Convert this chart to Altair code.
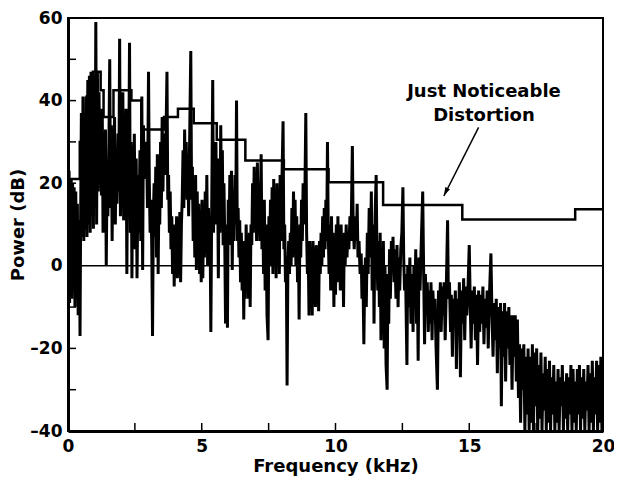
import altair as alt
import pandas as pd

# ---- spectrum (frequency kHz, power dB), left to right ----
seg_0_1 = [(0.00, 24), (0.02, -6), (0.04, 23), (0.06, -9), (0.08, 21), (0.10, -5), (0.12, 21), (0.14, -8),
           (0.17, 20), (0.20, -3), (0.23, 19), (0.26, -10), (0.29, 18), (0.32, -4), (0.35, 15), (0.38, -12),
           (0.40, 11), (0.43, 2), (0.45, -17),
           (0.47, 9), (0.50, 37), (0.53, 7), (0.56, 41), (0.59, 6), (0.62, 30), (0.65, 9), (0.68, 41), (0.71, 7),
           (0.74, 45), (0.77, 10), (0.80, 46), (0.83, 8), (0.86, 47), (0.89, 12), (0.92, 44), (0.95, 9),
           (0.98, 46), (1.01, 14), (1.04, 59), (1.07, 10), (1.10, 47)]
seg_1_2 = [(1.13, 18), (1.16, 42), (1.19, 20), (1.22, 35), (1.25, 17), (1.28, 38), (1.31, 8), (1.34, 26),
           (1.37, 16), (1.40, 33), (1.43, 0), (1.46, 22), (1.49, 12), (1.53, 30), (1.56, 50), (1.59, 14),
           (1.62, 34), (1.65, 6), (1.68, 25), (1.71, 20), (1.74, 36), (1.77, 10), (1.80, 28), (1.83, 15),
           (1.87, 32), (1.90, 18), (1.93, 55), (1.96, 12), (1.99, 30), (2.02, 16), (2.05, 42), (2.08, 11),
           (2.11, 29), (2.14, 20), (2.17, 38), (2.20, -2), (2.23, 27), (2.26, 14), (2.30, 54), (2.33, 8),
           (2.36, 30), (2.39, -3)]
seg_2_4 = [(2.42, 29), (2.45, 12), (2.48, 32), (2.51, 4), (2.55, 26), (2.58, -3), (2.62, 22), (2.65, 8),
           (2.69, 28), (2.72, 6), (2.76, 41), (2.79, -1), (2.82, 34), (2.85, 21), (2.88, 30), (2.91, 22),
           (2.94, 28), (2.97, 14), (3.01, 47), (3.04, 20), (3.07, 8), (3.10, 16), (3.13, 5), (3.16, -17),
           (3.19, 12), (3.22, 20), (3.25, 7), (3.28, 24), (3.31, 2), (3.34, 27), (3.37, -2), (3.40, 18),
           (3.43, 10), (3.46, 30), (3.49, 14), (3.52, 36), (3.55, 18), (3.58, 32), (3.62, 22), (3.66, 30),
           (3.70, 47), (3.73, 16), (3.76, 22), (3.79, 8), (3.82, 18), (3.85, 4), (3.88, 12), (3.91, -2),
           (3.94, 10), (3.97, -5)]
seg_4_5 = [(4.00, 9), (4.03, 0), (4.06, 12), (4.09, -3), (4.12, 8), (4.15, 2), (4.18, 13), (4.21, -4),
           (4.24, 10), (4.27, 16), (4.30, 28), (4.33, 14), (4.36, 33), (4.39, 18), (4.42, 30), (4.45, 16),
           (4.48, 25), (4.51, 12), (4.55, 32), (4.59, 52), (4.62, 16), (4.65, 24), (4.68, 6), (4.71, 20),
           (4.74, 2), (4.77, 22), (4.80, -1), (4.83, 18), (4.86, 4), (4.89, 15), (4.92, -2), (4.95, 12),
           (4.98, -4), (5.01, 16)]
seg_5_7 = [(5.04, -3), (5.07, 15), (5.10, 2), (5.13, 18), (5.16, 6), (5.19, 22), (5.22, 0), (5.25, 14),
           (5.28, 4), (5.31, 10), (5.34, -16), (5.37, 12), (5.41, 45), (5.44, 8), (5.47, 24), (5.50, 10),
           (5.53, 30), (5.56, 12), (5.59, 26), (5.62, -3), (5.65, 22), (5.68, 8), (5.71, 34), (5.74, 14),
           (5.77, 28), (5.80, 5), (5.83, 20), (5.86, 6), (5.89, -14), (5.92, 10), (5.96, -15), (5.99, 16),
           (6.02, 5), (6.05, 22), (6.08, 8), (6.11, 23), (6.14, -1), (6.17, 18), (6.20, 6), (6.24, 22),
           (6.27, 10), (6.30, 40), (6.33, 6), (6.36, 14), (6.39, 2), (6.42, 11), (6.45, -4), (6.48, 8),
           (6.51, -6), (6.54, 6), (6.57, -13), (6.60, 4), (6.63, -8), (6.66, 10), (6.69, -4), (6.72, 6),
           (6.75, -8), (6.78, 8), (6.81, -10), (6.84, 10), (6.87, 5), (6.90, 20), (6.93, 8), (6.96, 24)]
seg_7_8 = [(6.99, 10), (7.02, 22), (7.05, 6), (7.08, 25), (7.11, 9), (7.14, 20), (7.17, 6), (7.22, 27),
           (7.25, 4), (7.28, 14), (7.31, -2), (7.34, 16), (7.37, -6), (7.40, 10), (7.44, -12), (7.48, -18),
           (7.51, 12), (7.54, 2), (7.57, 16), (7.60, 0), (7.63, 19), (7.66, -2), (7.69, 21), (7.72, 4),
           (7.75, 18), (7.78, -3), (7.81, 20), (7.84, 2), (7.87, 16), (7.90, -2), (7.93, 22), (7.96, 6),
           (7.99, 18), (8.04, 35), (8.07, 4), (8.10, 10), (8.13, -4), (8.16, 2), (8.19, -29), (8.22, 0),
           (8.25, 6), (8.28, -2), (8.31, 8), (8.34, 0), (8.37, 14), (8.40, 2), (8.43, 18), (8.46, 4),
           (8.49, 16), (8.52, 0), (8.55, 12), (8.58, -4), (8.61, 8), (8.64, -13), (8.67, 10), (8.70, 2),
           (8.73, 16), (8.76, 6), (8.79, 20), (8.82, 10), (8.85, 14), (8.89, 37), (8.92, 8), (8.95, -2)]
seg_9_10 = [(8.98, 4), (9.01, -12), (9.04, 6), (9.07, -4), (9.10, 2), (9.13, -12), (9.16, 6), (9.19, -6),
            (9.22, 4), (9.25, -10), (9.28, 5), (9.31, -4), (9.34, 3), (9.37, -11), (9.40, 6), (9.43, -2),
            (9.46, 8), (9.49, 0), (9.52, 12), (9.55, 2), (9.58, 14), (9.61, 4), (9.64, 16), (9.67, 6),
            (9.70, 30), (9.73, 8), (9.76, -2), (9.79, 10), (9.82, -6), (9.85, 12), (9.88, -3), (9.91, 8),
            (9.94, -10), (9.97, 6), (10.00, -7)]
seg_10_12 = [(10.03, 10), (10.06, -4), (10.09, 12), (10.12, -2), (10.15, 8), (10.18, -6), (10.21, 10),
             (10.24, -4), (10.27, 6), (10.30, -10), (10.33, 8), (10.36, 0), (10.40, 10), (10.43, 2),
             (10.46, 8), (10.50, 4), (10.54, 12), (10.58, 6), (10.63, 29), (10.66, 10), (10.70, 4),
             (10.74, 12), (10.78, 6), (10.81, 15), (10.84, 2), (10.88, 6), (10.92, -2), (10.96, 3),
             (10.99, -8), (11.02, 0), (11.06, -19), (11.09, -4), (11.12, 2), (11.15, -10), (11.19, 8),
             (11.22, -2), (11.26, 14), (11.30, 2), (11.34, 18), (11.37, -6), (11.41, 10), (11.44, -14),
             (11.48, 12), (11.52, 22), (11.55, 2), (11.58, -6), (11.61, 6), (11.64, -10), (11.67, 8),
             (11.70, -18), (11.73, 2), (11.76, -12), (11.79, 6), (11.82, -20), (11.85, 0), (11.89, -24),
             (11.93, -30), (11.96, -2), (11.99, -14)]
seg_12_13 = [(12.02, 4), (12.05, -8), (12.09, 6), (12.12, 0), (12.15, 7), (12.19, -4), (12.22, 4),
             (12.26, -8), (12.30, 5), (12.34, -10), (12.37, 2), (12.40, -6), (12.44, 4), (12.48, 8),
             (12.52, 19), (12.55, 2), (12.58, -6), (12.62, -2), (12.67, -24), (12.70, 0), (12.74, -10),
             (12.78, 2), (12.82, -14), (12.86, -2), (12.90, -16), (12.93, 0), (12.97, -8), (13.00, 4),
             (13.03, -14), (13.06, -4), (13.09, -23), (13.12, 2), (13.16, -6), (13.20, 4), (13.26, 18),
             (13.30, -4), (13.33, -19), (13.36, -2), (13.40, -12), (13.43, -4), (13.47, -16), (13.50, -6),
             (13.54, -14), (13.57, -4), (13.61, -18), (13.64, -6), (13.68, -12), (13.72, -8), (13.76, -20),
             (13.81, -30), (13.85, -6), (13.88, -14), (13.92, -4), (13.95, -16), (13.99, -5)]
seg_14_15 = [(14.02, -12), (14.06, -4), (14.10, -18), (14.14, -6), (14.19, 11), (14.22, -8), (14.26, -4),
             (14.30, -16), (14.33, -7), (14.37, -22), (14.40, -8), (14.44, -14), (14.48, -6), (14.52, -25),
             (14.56, -8), (14.60, -16), (14.63, -4), (14.67, -27), (14.71, -6), (14.75, -14), (14.79, -3),
             (14.83, -18), (14.87, -5), (14.91, -12), (14.95, -6), (15.00, 5), (15.04, -10), (15.07, -20)]
seg_15_17 = [(15.11, -6), (15.15, -14), (15.19, -5), (15.23, -18), (15.27, -7), (15.31, -24), (15.35, -6),
             (15.39, -16), (15.43, -7), (15.47, -14), (15.51, -5), (15.55, -19), (15.59, -8), (15.63, -15),
             (15.67, -6), (15.71, -20), (15.75, -8), (15.81, 3), (15.85, -12), (15.89, -22), (15.93, -9),
             (15.97, -18), (16.01, -8), (16.05, -26), (16.09, -10), (16.13, -20), (16.17, -9), (16.20, -34),
             (16.24, -11), (16.28, -22), (16.32, -9), (16.36, -28), (16.40, -11), (16.44, -20), (16.48, -10),
             (16.52, -24), (16.56, -12), (16.60, -30), (16.64, -12), (16.68, -22), (16.72, -12), (16.76, -28),
             (16.80, -13), (16.84, -32), (16.88, -19), (16.92, -38), (16.96, -20), (17.00, -30), (17.04, -19),
             (17.08, -40)]
seg_17_20 = [(17.12, -22), (17.16, -36), (17.20, -20), (17.24, -40), (17.28, -22), (17.32, -38), (17.36, -19),
             (17.40, -40), (17.44, -21), (17.48, -34), (17.52, -20), (17.56, -40), (17.60, -24), (17.64, -37),
             (17.68, -21), (17.72, -40), (17.76, -26), (17.80, -35), (17.84, -22), (17.88, -40), (17.92, -25),
             (17.96, -38), (18.00, -23), (18.04, -40), (18.08, -27), (18.12, -36), (18.16, -24), (18.20, -40),
             (18.24, -28), (18.28, -38), (18.32, -25), (18.36, -40), (18.40, -27), (18.44, -34), (18.48, -24),
             (18.52, -40), (18.56, -28), (18.60, -37), (18.64, -26), (18.68, -40), (18.72, -27), (18.76, -36),
             (18.80, -24), (18.84, -40), (18.88, -25), (18.92, -38), (18.96, -28), (19.00, -40), (19.04, -25),
             (19.08, -36), (19.12, -24), (19.16, -40), (19.20, -27), (19.24, -37), (19.28, -25), (19.32, -40),
             (19.36, -28), (19.40, -35), (19.44, -24), (19.48, -40), (19.52, -26), (19.56, -38), (19.60, -23),
             (19.64, -40), (19.68, -27), (19.72, -36), (19.76, -23), (19.80, -40), (19.84, -24), (19.88, -38),
             (19.92, -22), (19.96, -40), (20.00, -24)]

# ---- Just Noticeable Distortion staircase (step start kHz, level dB) ----
jnd_khz = [0.0, 0.44, 0.70, 0.93, 1.22, 1.33, 1.70, 2.37, 2.74, 3.59, 4.11, 4.70, 5.56, 6.63,
           8.07, 9.74, 11.78, 14.74, 18.96, 20.0]
jnd_db = [21, 30, 41, 47, 42.5, 36, 42.5, 40, 33, 36, 38, 34.5, 30.5, 25.5,
          23.4, 20.2, 14.7, 11.2, 13.7, 13.7]

# ---- axes ----
x_label_values = [0, 5, 10, 15, 20]
y_label_values = [-40, -20, 0, 20, 40, 60]
x_tick_values = [2.5, 5, 7.5, 10, 12.5, 15, 17.5]
y_tick_values = [-30, -20, -10, 0, 10, 20, 30, 40, 50]

# ---- annotation ----
note_lines = ["Just Noticeable", "Distortion"]
note_khz = [15.55, 15.55]
note_db = [42.0, 36.2]
arrow_from = (15.35, 33.5)
arrow_to = (14.05, 16.9)

segments = [seg_0_1, seg_1_2, seg_2_4, seg_4_5, seg_5_7, seg_7_8, seg_9_10,
            seg_10_12, seg_12_13, seg_14_15, seg_15_17, seg_17_20]
spec = pd.DataFrame([p for s in segments for p in s], columns=["f", "db"])
jnd = pd.DataFrame({"f": jnd_khz, "db": jnd_db})
notes = pd.DataFrame({"f": note_khz, "db": note_db, "t": note_lines})
arrow = pd.DataFrame({"f": [arrow_from[0]], "db": [arrow_from[1]],
                      "f2": [arrow_to[0]], "db2": [arrow_to[1]]})
head = pd.DataFrame({"f": [arrow_to[0]], "db": [arrow_to[1]]})
zero = pd.DataFrame({"db": [0]})
xt = pd.DataFrame({"f": x_tick_values})
yt = pd.DataFrame({"db": y_tick_values})

FONT = "DejaVu Sans"
xs = alt.Scale(domain=[0, 20], nice=False, zero=False)
ys = alt.Scale(domain=[-40, 60], nice=False, zero=False)
x_axis = alt.Axis(values=x_label_values, title="Frequency (kHz)")
y_axis = alt.Axis(values=y_label_values, title="Power (dB)", labelPadding=6, titlePadding=2,
                  labelExpr="datum.value < 0 ? '\u2013' + abs(datum.value) : datum.label")

X = alt.X("f:Q", scale=xs, axis=x_axis, title="Frequency (kHz)")
Y = alt.Y("db:Q", scale=ys, axis=y_axis, title="Power (dB)")

spec_layer = alt.Chart(spec).mark_line(color="black", strokeWidth=3, clip=True).encode(x=X, y=Y)
zero_layer = alt.Chart(zero).mark_rule(color="black", strokeWidth=1.5).encode(y=Y)
jnd_layer = alt.Chart(jnd).mark_line(color="black", strokeWidth=2.5, interpolate="step-after").encode(x=X, y=Y)
xtick_layer = alt.Chart(xt).mark_rule(color="black", strokeWidth=1.5).encode(
    x=X, y=alt.value(413), y2=alt.value(405))
ytick_layer = alt.Chart(yt).mark_rule(color="black", strokeWidth=1.5).encode(
    y=Y, x=alt.value(0), x2=alt.value(8))
note_layer = alt.Chart(notes).mark_text(font=FONT, fontWeight="bold", fontSize=18, color="black",
                                        baseline="middle", align="center").encode(x=X, y=Y, text="t:N")
arrow_layer = alt.Chart(arrow).mark_rule(color="black", strokeWidth=1.5).encode(
    x=X, y=Y, x2="f2:Q", y2="db2:Q")
head_layer = alt.Chart(head).mark_point(shape="M0,0 L-0.3,1 L0.3,1 Z", filled=True, color="black",
                                        size=300, angle=206, opacity=1).encode(x=X, y=Y)

chart = alt.layer(spec_layer, zero_layer, jnd_layer, xtick_layer, ytick_layer,
                  arrow_layer, head_layer, note_layer).properties(
    width=535, height=413,
    autosize=alt.AutoSizeParams(type="none"),
    padding={"left": 60, "top": 10, "right": 11, "bottom": 48},
    background="white",
).configure_view(stroke="black", strokeWidth=2).configure_axis(
    grid=False, ticks=False, domain=True, domainColor="black", domainWidth=3,
    labelFont=FONT, labelFontWeight="bold", labelFontSize=17, labelColor="black",
    labelFlush=False, labelPadding=7, labelOverlap=False,
    titleFont=FONT, titleFontWeight="bold", titleFontSize=18, titleColor="black", titlePadding=3,
)

chart.save("out.html", embed_options={"renderer": "svg", "actions": False})
